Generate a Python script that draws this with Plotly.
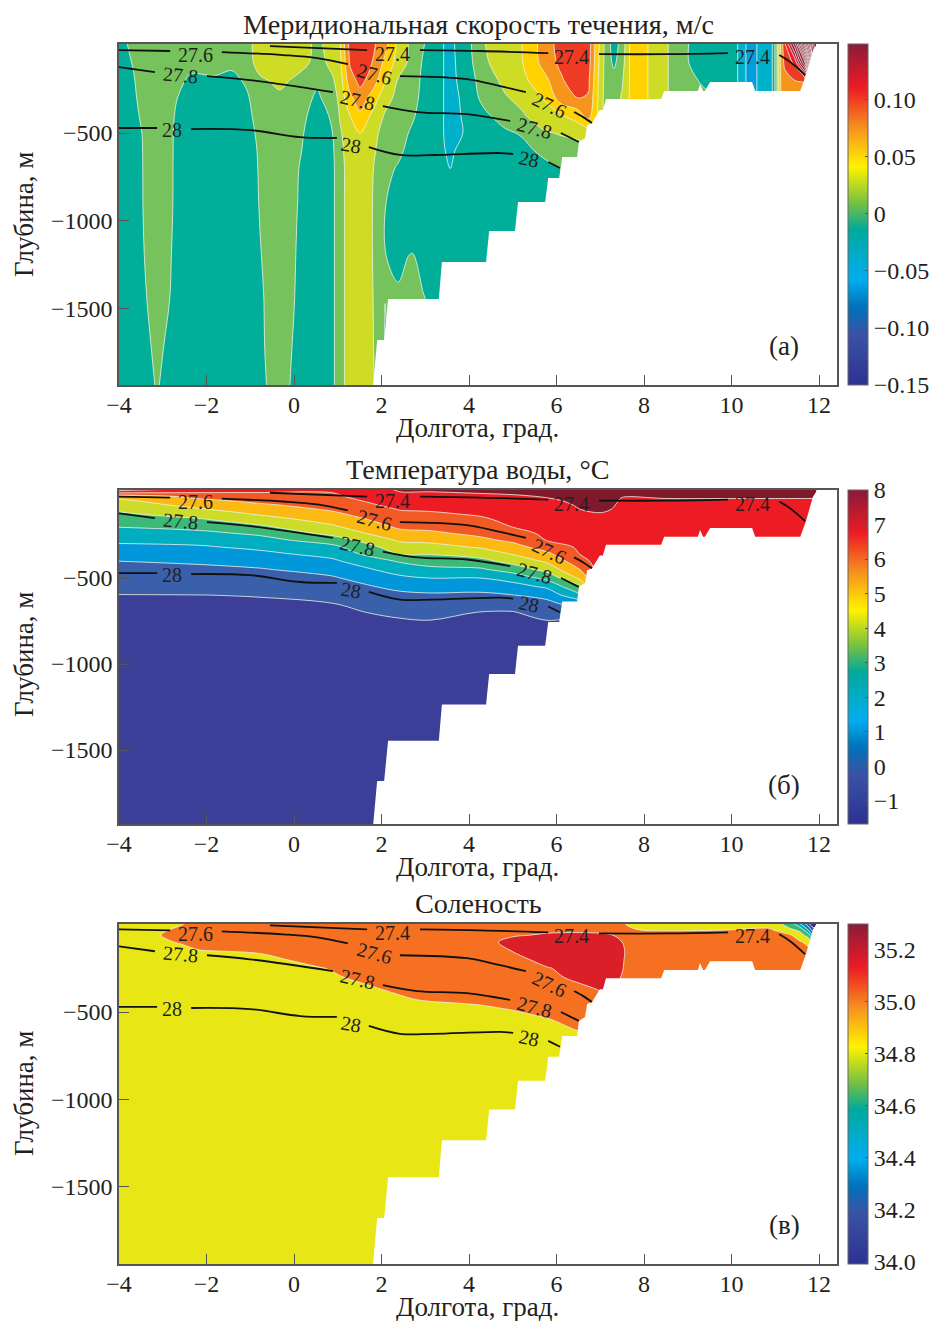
import plotly.graph_objects as go

FONT = "Liberation Serif"
INK = "#231f20"
W, H = 939, 1321

# ---------- sea floor (lon, depth m) ----------
floor_lon = [1.80,1.90,2.06,2.15,3.31,3.38,4.39,4.46,5.05,5.12,5.74,5.81,6.06,6.13,6.47,6.51,6.65,6.70,6.81,6.99,7.06,7.13,8.39,8.46,9.23,9.28,9.35,9.39,9.51,10.47,10.54,11.57,11.70,11.79,11.86,11.93,11.95,12.6,12.6,1.75]
floor_depth = [1960,1680,1680,1446,1446,1235,1235,1058,1058,893,893,756,756,637,637,551,529,454,443,369,369,306,306,260,260,220,260,260,209,209,260,260,169,84,27,0,-30,-30,1960,1960]

# ---------- isopycnals (segments between labels) ----------
iso_274 = [([-0.55,1.67],[4,27]),([2.88,4.25,5.81],[27,32,44]),([6.97,8.53,9.92],[50,50,44]),([11.09,11.34,11.68],[55,95,169])]
iso_276 = [([-4,-2.83],[27,32]),([-1.65,-0.25,0.53,1.23],[38,55,72,107]),([2.42,3.95,4.71,5.30],[175,192,232,266]),([6.4,6.61,6.81],[380,409,443])]
iso_278 = [([-4,-3.18],[124,152]),([-1.99,-1.01,0.89],[175,198,266]),([2.03,2.81,3.95,4.94],[346,380,392,431]),([6.10,6.51],[500,551])]
iso_28 = [([-4,-3.13],[471,471]),([-2.35,-1.01,0.14,0.98],[477,483,523,528]),([1.71,2.42,3.18,4.71,5.01],[580,625,625,614,620]),([5.81,6.08],[665,699])]
iso_labels = ["27.4","27.4","27.4","27.6","27.6","27.6","27.8","27.8","27.8","28","28","28"]
iso_label_lon = [2.24,6.35,10.47,-2.26,1.83,5.83,-2.6,1.44,5.49,-2.79,1.30,5.37]
iso_label_depth = [50,67,67,55,164,340,170,312,471,483,568,648]
iso_label_angle = [0,0,0,0,15,25,5,13,15,0,10,12]

# ---------- panel a: meridional velocity, 10^-3 m/s ----------
v_depth = [-15,100,200,300,400,500,600,700,900,1200,1450,1700,1950]
v_lon = [-4.00,-3.68,-3.45,-3.13,-2.77,-2.38,-1.81,-1.42,-1.07,-0.78,-0.32,0.07,0.53,0.89,1.05,1.28,1.51,1.78,2.08,2.38,2.70,2.95,3.27,3.57,3.86,4.02,4.37,4.82,5.23,5.74,6.13,6.49,6.72,6.90,7.02,7.13,7.31,7.50,7.68,7.91,8.11,8.37,8.53,8.78,9.01,9.28,9.85,10.13,10.22,10.42,10.61,10.77,10.93,10.99,11.04,11.09,11.15,11.22,11.45,11.68,11.91,12.48]
v_columns = [
[-8,-9,-10],[6,1,-2,-4,-6,-8,-10],[10,10,9,7,4,1,0.5,0.3,0.2,-1,-3,-5,-6],[12,12,12,12,12,12,12,12,12,10,8,4,1],
[12,10,8,3,1,0.3,0.2,0.1,0.05,-1,-2,-5,-7],[10,5,-3,-8,-10],[10,5,-2,-8,-10],[10,4,-5,-10],[10,8,3,-2,-5,-8,-10],
[35,32,15,10,8,5,3,2,1,-1,-3,-3,-4],[38,38,27,14,12,12,12,12,12,12,12,10,8],[33,32,14,10,8,5,3,1,0.3,-1,-2,-4,-6],
[15,12,3,-3,-8,-10],[30,26,18,9,3,0.3,-2,-3],[38,35,30,27,22,17,14,12],[88,82,72,55,40,33,31,30],
[98,96,85,72,56,40,37,36,35,35,34,33,32],[85,80,73,52,37,28,25,22,21,21,22,23,25],[68,55,42,28,18,12,8,6,0.5,0.3,0.1,-1,-3],
[35,32,18,14,10,8,5,-2,-6,-3,2,5],[14,13,12,8,3,-3,-8,-10,-10,1,12],[2,-2,-5,-6,-8,-10,-10,-10,-10,-10,2],
[-15,-15,-15,-15,-15,-15,-15,-15,-10],[-25,-25,-25,-25,-25,-25,-23,-20.5,-12,-10],[-10,-13,-15,-18,-19,-20,-15,-10],[-2,-4,-6,-8,-9,-10],
[20,18,10,6,-3,-8,-10],[28,28,25,18,8,-3,-8,-10],[40.5,40,35,26,18,2,-5,-10],[70,68,55,42,33,18,5,-5,-10],
[90,86,78,72,39,22,10,0.3,-10],[98,97,95,80,50,25,12,2,-10],[91,90,85,78,68,28,15,5,-10],[55,53,50,48,46,30,15],[31,30,28,26,25,20],
[12],[-10,-4,8,12],[8,12,18,22],[42],[58,55],[38],[30],[21],[10],[0.5,0.5,5,5],[-8,-8,-1,5],[-10,-10,-9,-5],
[-19],[-28],[-50],[-38],[-30],[-20.5],[0.5],[20],[45],[72],[100,85,72,70],[180,105,80,70],[320,200,82,70],[460,400,300,200],[500,480,400,300],
]

# ---------- panel b: temperature, deg C ----------
t_depth = [-15,25,50,75,100,130,160,200,240,280,320,360,400,450,500,550,600,650,700,750,800,1950]
t_lon = [-4,-2.15,-0.78,0.89,2.42,3.11,4.25,5.0,5.78,6.54,7.0,7.25,7.5,8.5,10,11,12.48]
t_columns = [
[7.5,4.4,3.8,3.47,3.17,2.83,2.49,2.05,1.62,1.19,0.79,0.40,0.01,-0.25,-0.51,-0.77,-1.02,-1.1,-1.15,-1.2,-1.25,-1.5],
[6.6,5.3,4.78,4.34,3.91,3.4,2.9,2.31,1.78,1.32,0.89,0.51,0.14,-0.19,-0.46,-0.73,-1.01,-1.1,-1.15,-1.2,-1.25,-1.5],
[6.3,5.62,5.24,4.87,4.5,4.06,3.55,2.86,2.17,1.66,1.2,0.77,0.38,-0.07,-0.37,-0.67,-0.97,-1.1,-1.15,-1.2,-1.25,-1.5],
[6.15,5.84,5.6,5.37,5.13,4.79,4.41,3.88,3.29,2.47,1.75,1.3,0.86,0.34,-0.1,-0.41,-0.71,-1.02,-1.1,-1.2,-1.25,-1.5],
[7.1,6.8,6.55,6.3,6.05,5.78,5.53,5.18,4.72,4.13,3.56,3.08,2.13,1.42,0.8,0.23,-0.21,-0.55,-0.9,-1.05,-1.1,-1.5],
[7.1,6.8,6.55,6.33,6.11,5.85,5.59,5.25,4.84,4.24,3.65,3.06,2.47,1.74,1.0,0.36,-0.13,-0.44,-0.74,-1.03,-1.1,-1.5],
[7.2,6.85,6.66,6.47,6.29,6.08,5.85,5.53,5.21,4.78,4.1,3.41,2.72,1.86,1.0,0.36,-0.19,-0.62,-1.03,-1.1,-1.2,-1.5],
[7.3,6.9,6.77,6.64,6.52,6.38,6.23,6.04,5.64,5.18,4.65,4.06,3.38,2.43,1.4,0.6,-0.03,-0.61,-1.05,-1.15,-1.2,-1.5],
[7.5,7.05,6.9,6.82,6.73,6.6,6.48,6.33,6.18,6.03,5.43,4.78,4.19,3.36,2.26,1.17,0.28,-0.27,-0.67,-1.03,-1.1,-1.5],
[7.5,7.2,7.12,7.05,7.0,6.85,6.75,6.6,6.45,6.3,6.15,6.03,5.67,5.03,4.2,2.97,1.92,0.42,-0.8,-1.1,-1.2,-1.5],
[7.6,7.4,7.3,7.2,7.1,6.95,6.8,6.7,6.6,6.5,6.4],
[7.6,7.4,7.3,7.15,7.0,6.9,6.8,6.7,6.6,6.5,6.4],
[7.5,7.05,6.85,6.75,6.7,6.6,6.5],
[7.5,7.1,6.9,6.8,6.7,6.6,6.5],
[7.5,7.1,6.9,6.8,6.7,6.6,6.5],
[7.5,7.1,6.9,6.8,6.7,6.6,6.5],
[7.5,7.1,6.9,6.8,6.7,6.6,6.5],
]

# ---------- panel c: salinity ----------
s_depth = [-15,30,60,100,150,200,250,300,350,400,450,500,550,600,650,1000,1950]
s_lon = [-4,-3.52,-3.06,-2.61,-2.15,-0.78,0.53,1.67,2.81,4.25,4.64,5.0,5.78,6.53,6.99,7.29,7.50,7.63,7.91,8.53,9.90,10.88,11.06,11.34,11.57,11.75,11.86,12.48]
s_columns = [
[34.8],[34.8],[34.8,34.85,34.895,34.85,34.8],[34.84,34.96,35.0,34.92,34.8],[35,35,35,35,34.89,34.8],
[35,35,35,35,34.93,34.83,34.8],[35,35,35,35,35,34.98,34.88,34.8],[35,35,35,35,35,35,35,34.99,34.89,34.8],
[35,35,35,35,35,35,35,35,35,34.96,34.86,34.8],[35,35,35,35,35,35,35,35,35,35,34.92,34.82,34.8],
[35,35,35,35.09,35,35,35,35,35,35,34.95,34.85,34.8],[35,35,35.07,35.2,35.11,35.0,35,35,35,35,34.98,34.88,34.8],
[35,35.05,35.13,35.2,35.2,35.2,35.08,35,35,35,35,34.97,34.87,34.8],[35,35.06,35.14,35.2,35.2,35.2,35.2,35.2,35.06,35,35,35,35,34.92,34.82,34.8],
[35,35.05,35.13,35.2,35.2,35.2,35.2,35.2,35.17,35.05,35],[35,35.02,35.1,35.2],[34.92,35.0,35.05,35.1,35.18,35.15,35.12,35.08,35],
[34.85,34.95,35],[34.8,34.9,35],[34.75,34.88,35],[34.8,34.9,35],[34.82,34.92,35],[34.7,34.87,34.98,35],[34.5,34.75,34.92,35],
[34.2,34.65,34.78,34.92,35],[33.9,34.3,34.62,34.85,34.95,35],[33.7,34.0,34.3,34.7,34.9,35],[33.5,33.7,34,34.5,34.9,35],
]

# ---------- band colours ----------
v_levels_start, v_levels_size = -0.16, 0.02
v_band_colors = ["#2e3192","#30409b","#3953a4","#0072bc","#0088d0","#009edf","#00b1cc","#00ae9a","#76c25d","#cedc26","#ffd200","#f7941e","#ef3b24","#ed1c24","#c4202f"] + ["#8b1a3a"]*18
t_levels_start, t_levels_size = -2, 1
t_band_colors = ["#3b3f98","#3a5fab","#0098db","#00aebf","#3cb878","#cddc29","#fdb913","#f15a24","#ed1c24","#7e1a2c"]
s_levels_start, s_levels_size = 33.3, 0.2
s_band_colors = ["#2e3192","#2e3192","#2e3192","#3953a4","#0088d0","#00aebf","#3cb878","#e8e615","#f57020","#da1f29"]

bar_colorscale = [[0,"#2e3192"],[0.15,"#3953a4"],[0.23,"#0072bc"],[0.31,"#00aeef"],[0.455,"#00a99d"],[0.53,"#72bf44"],[0.64,"#fff200"],[0.75,"#f7941e"],[0.87,"#ed1c24"],[1,"#8b1a3a"]]

panels = [
 dict(lon=v_lon,depth=v_depth,cols=v_columns,scale=0.001,start=v_levels_start,size=v_levels_size,colors=v_band_colors,
      top=44,bottom=385,yrange=[-1937,8],title="Меридиональная скорость течения, м/с",title_y=25,tag="(а)",tag_depth=1714,ytitle_y=215,
      cmin=-0.15,cmax=0.149,bvals=[0.10,0.05,0,-0.05,-0.10,-0.15],btext=["0.10","0.05","0","−0.05","−0.10","−0.15"]),
 dict(lon=t_lon,depth=t_depth,cols=t_columns,scale=1,start=t_levels_start,size=t_levels_size,colors=t_band_colors,
      top=490,bottom=824,yrange=[-1930,12],title="Температура воды, °C",title_y=470,tag="(б)",tag_depth=1703,ytitle_y=655,
      cmin=-1.67,cmax=8,bvals=[8,7,6,5,4,3,2,1,0,-1],btext=["8","7","6","5","4","3","2","1","0","−1"]),
 dict(lon=s_lon,depth=s_depth,cols=s_columns,scale=1,start=s_levels_start,size=s_levels_size,colors=s_band_colors,
      top=924,bottom=1264,yrange=[-1943,4],title="Соленость",title_y=904,tag="(в)",tag_depth=1720,ytitle_y=1094,
      cmin=33.99,cmax=35.3,bvals=[35.2,35.0,34.8,34.6,34.4,34.2,34.0],btext=["35.2","35.0","34.8","34.6","34.4","34.2","34.0"]),
]
x_ticks = [-4,-2,0,2,4,6,8,10,12]
x_ticktext = ["−4","−2","0","2","4","6","8","10","12"]
y_ticks = [-500,-1000,-1500]
y_ticktext = ["−500","−1000","−1500"]
x_title = "Долгота, град."
y_title = "Глубина, м"

def stepped(colors):
    n = len(colors)
    out = []
    for i, c in enumerate(colors):
        out += [[i/n, c], [(i+1)/n, c]]
    return out

fig = go.Figure()
annots = []
layout = {}
for i, p in enumerate(panels):
    n = i + 1
    xa, ya = ("x%d" % n if n > 1 else "x"), ("y%d" % n if n > 1 else "y")
    nrows = len(p["depth"])
    cols = [c + [c[-1]]*(nrows-len(c)) for c in p["cols"]]
    z = [[cols[j][r]*p["scale"] for j in range(len(cols))] for r in range(nrows)]
    nb = len(p["colors"])
    end = p["start"] + nb*p["size"]
    fig.add_trace(go.Contour(x=p["lon"], y=[-d for d in p["depth"]], z=z, xaxis=xa, yaxis=ya,
        zauto=False, zmin=p["start"], zmax=end, colorscale=stepped(p["colors"]), showscale=False,
        autocontour=False, contours=dict(start=p["start"], end=end, size=p["size"], coloring="fill", showlines=True),
        line=dict(color="#eef3e6", width=0.8, smoothing=1.0), hoverinfo="skip"))
    fig.add_trace(go.Scatter(x=floor_lon, y=[-d for d in floor_depth], xaxis=xa, yaxis=ya, mode="lines",
        fill="toself", fillcolor="white", line=dict(width=0, color="white"), hoverinfo="skip"))
    for iso in (iso_274, iso_276, iso_278, iso_28):
        for lons, deps in iso:
            fig.add_trace(go.Scatter(x=lons, y=[-d for d in deps], xaxis=xa, yaxis=ya, mode="lines",
                line=dict(color="#111111", width=1.8, shape="spline"), hoverinfo="skip"))
    for t, lo, de, an in zip(iso_labels, iso_label_lon, iso_label_depth, iso_label_angle):
        annots.append(dict(text=t, x=lo, y=-de, xref=xa, yref=ya, showarrow=False, textangle=an,
                           font=dict(family=FONT, size=20, color=INK)))
    annots.append(dict(text=p["title"], x=478/W, y=1-p["title_y"]/H, xref="paper", yref="paper", showarrow=False,
                       xanchor="center", yanchor="middle", font=dict(family=FONT, size=28.2, color=INK)))
    annots.append(dict(text=x_title, x=477/W, y=1-(p["bottom"]+43)/H, xref="paper", yref="paper", showarrow=False, borderpad=0,
                       xanchor="center", yanchor="middle", font=dict(family=FONT, size=27, color=INK)))
    annots.append(dict(text=y_title, x=24/W, y=1-p["ytitle_y"]/H, xref="paper", yref="paper", showarrow=False, textangle=-90,
                       xanchor="center", yanchor="middle", font=dict(family=FONT, size=27, color=INK)))
    annots.append(dict(text=p["tag"], x=11.2, y=-p["tag_depth"], xref=xa, yref=ya, showarrow=False,
                       font=dict(family=FONT, size=27, color=INK)))
    fig.add_trace(go.Scatter(x=[None], y=[None], xaxis=xa, yaxis=ya, mode="markers",
        marker=dict(color=[p["cmin"]], cmin=p["cmin"], cmax=p["cmax"], colorscale=bar_colorscale, showscale=True,
            colorbar=dict(x=848/W, xanchor="left", xpad=0, ypad=0, thickness=20, thicknessmode="pixels",
                lenmode="fraction", len=(p["bottom"]-p["top"])/H, y=1-(p["top"]+p["bottom"])/2/H, yanchor="middle",
                tickmode="array", tickvals=p["bvals"], ticktext=p["btext"], ticks="inside", ticklen=3, tickcolor="#555",
                tickfont=dict(family=FONT, size=24, color=INK), outlinecolor="#666", outlinewidth=1))))
    common = dict(showgrid=False, zeroline=False, showline=True, mirror=True, linecolor="#555", linewidth=1.5,
                  ticks="inside", ticklen=10, tickwidth=1.2, tickcolor="#555", tickmode="array",
                  tickfont=dict(family=FONT, size=24, color=INK))
    layout["xaxis%s" % ("" if n == 1 else n)] = dict(common, domain=[119/W, 837/W], range=[-4, 12.41], anchor=ya,
        tickvals=x_ticks, ticktext=x_ticktext, ticklabelstandoff=-3)
    layout["yaxis%s" % ("" if n == 1 else n)] = dict(common, domain=[1-p["bottom"]/H, 1-p["top"]/H], range=p["yrange"], anchor=xa,
        tickvals=y_ticks, ticktext=y_ticktext)

fig.update_layout(width=W, height=H, margin=dict(l=0, r=0, t=0, b=0, autoexpand=False), showlegend=False,
                  paper_bgcolor="white", plot_bgcolor="white", annotations=annots, **layout)
fig.write_html("out.html", config=dict(displayModeBar=False),
               post_script="document.body.style.margin='0';document.documentElement.style.overflow='hidden';")
